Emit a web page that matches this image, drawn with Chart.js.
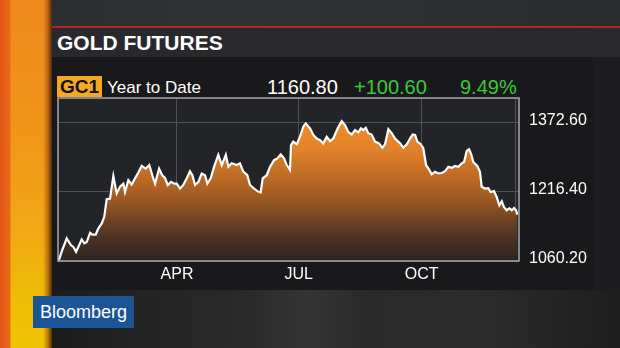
<!DOCTYPE html>
<html>
<head>
<meta charset="utf-8">
<script src="https://cdn.jsdelivr.net/npm/chart.js@4"></script>
<style>
  html, body { margin: 0; padding: 0; }
  body {
    width: 620px; height: 348px; overflow: hidden; position: relative;
    background: #1b1b1d;
    font-family: "Liberation Sans", Arial, sans-serif;
  }
  .abs { position: absolute; }
  #stripe {
    left: 0; top: 0; width: 52px; height: 348px;
    background:
      linear-gradient(to right, #e35616 0, #e86a1a 10px, rgba(0,0,0,0) 11px, rgba(0,0,0,0) 43px, rgba(150,70,10,0.6) 48px, rgba(60,30,10,0.9) 52px),
      linear-gradient(to bottom, #ee8a1c 0, #f0961a 40%, #f0a816 65%, #eebc06 85%, #f0c400 100%);
  }
  #topband {
    left: 52px; top: 0; width: 568px; height: 26px;
    background: linear-gradient(to right, #2c2d30 0, #313235 30%, #2e2f31 60%, #2a2b2d 100%);
  }
  #redline { left: 52px; top: 26px; width: 568px; height: 2px; background: #b3262a; }
  #titlebar { left: 52px; top: 28px; width: 568px; height: 29px; background: #29292d; }
  #panel { left: 52px; top: 57px; width: 541px; height: 233px; background: #19191b; }
  #panelright { left: 593px; top: 57px; width: 27px; height: 233px; background: #1d1d1f; }
  #bottom {
    left: 52px; top: 290px; width: 568px; height: 58px;
    background: linear-gradient(to right, #1c1c1c 0, #242424 15%, #2a2a2a 35%, #343434 45%, #2a2a2a 55%, #2c2c2c 75%, #242424 90%, #1e1e1e 100%);
  }
  #title { left: 57px; top: 32px; color: #fff; font-weight: bold; font-size: 21px; line-height: 1; }
  #gc1 {
    left: 57px; top: 76px; width: 45px; height: 21px; background: #f2aa22;
    color: #111; font-weight: bold; font-size: 19px; line-height: 21px; text-align: center;
  }
  .row { color: #fff; line-height: 1; white-space: nowrap; }
  #ytd { left: 107px; top: 79px; font-size: 17px; }
  #last { left: 267px; top: 77px; font-size: 20px; }
  #chg { left: 354px; top: 77px; font-size: 20px; color: #3cc83c; }
  #pct { left: 460px; top: 77px; font-size: 20px; color: #3cc83c; }
  #logo {
    left: 33px; top: 296px; width: 101px; height: 32px; background: #1b5597;
    color: #fff; font-size: 18px; line-height: 32px; text-align: center;
  }
  #wrap { left: 0; top: 0; width: 620px; height: 348px; }
</style>
</head>
<body>
<div class="abs" id="stripe"></div>
<div class="abs" id="topband"></div>
<div class="abs" id="redline"></div>
<div class="abs" id="titlebar"></div>
<div class="abs" id="panel"></div>
<div class="abs" id="panelright"></div>
<div class="abs" id="bottom"></div>
<div class="abs" id="title">GOLD FUTURES</div>
<div class="abs" id="gc1">GC1</div>
<div class="abs row" id="ytd">Year to Date</div>
<div class="abs row" id="last">1160.80</div>
<div class="abs row" id="chg">+100.60</div>
<div class="abs row" id="pct">9.49%</div>
<div class="abs" id="logo">Bloomberg</div>
<div class="abs" id="wrap"><canvas id="goldChart" width="620" height="348"></canvas></div>

<script>
// day of year (0 = Jan 1) and settle price
const days = [
  2.2, 3.0, 4.8, 8.5, 11.7, 13.5, 15.5, 17.2, 19.7, 21.7, 23.5, 26.0, 27.7, 30.2, 32.2, 34.7, 36.6, 38.4, 40.9,
  43.4, 45.9, 48.4, 50.9, 52.1, 54.6, 57.1, 59.6, 62.1, 64.6, 67.6, 70.3, 72.5, 74.6, 77.6, 80.0, 82.0, 84.1,
  86.5, 89.0, 90.8, 93.3, 95.7, 98.3, 100.7, 102.5, 104.5, 107.0, 109.5, 112.0, 113.7, 116.2, 118.7, 121.9,
  124.5, 127.5, 129.4, 131.9, 135.7, 138.1, 140.6, 143.6, 145.6, 148.6, 151.1, 153.6, 155.1, 158.1, 160.6,
  163.6, 166.0, 168.6, 171.1, 173.1, 175.5, 176.3, 178.0, 180.6, 183.0, 185.5, 187.3, 190.5, 193.0, 195.5,
  198.0, 200.4, 203.0, 205.5, 207.9, 211.2, 214.2, 216.7, 219.1, 221.7, 224.2, 226.6, 228.6, 230.4, 232.2,
  234.1, 236.6, 239.1, 242.1, 244.6, 246.6, 249.1, 251.6, 254.1, 256.5, 258.0, 260.3, 262.9, 265.3, 267.3,
  269.1, 270.8, 273.3, 275.2, 277.3, 279.7, 281.5, 284.0, 286.5, 289.0, 291.5, 294.0, 296.5, 299.0, 301.4,
  304.0, 305.7, 307.7, 309.4, 310.9, 312.6, 315.6, 317.6, 318.9, 321.4, 323.8, 325.6, 328.1, 330.1, 332.1,
  333.9, 335.6, 337.6, 339.6, 341.4, 343.1, 344.6, 345.6
];
const prices = [
  1063, 1065, 1082, 1111, 1096, 1092, 1081, 1092, 1109, 1100, 1103, 1124, 1120, 1120, 1134, 1145, 1160, 1200, 1201,
  1252, 1213, 1228, 1235, 1216, 1243, 1233, 1247, 1260, 1275, 1269, 1277, 1254, 1235, 1269, 1254, 1248, 1232,
  1239, 1235, 1235, 1224, 1232, 1247, 1263, 1254, 1232, 1239, 1258, 1254, 1235, 1247, 1273, 1300,
  1277, 1300, 1273, 1281, 1277, 1281, 1262, 1254, 1232, 1224, 1218, 1215, 1247, 1254, 1273,
  1288, 1292, 1301, 1292, 1277, 1266, 1322, 1330, 1324, 1341, 1364, 1371, 1360, 1345, 1337,
  1333, 1326, 1341, 1331, 1337, 1360, 1376, 1367, 1352, 1346, 1356, 1351, 1360, 1356, 1361,
  1349, 1346, 1330, 1326, 1316, 1324, 1358, 1349, 1337, 1330, 1326, 1316, 1324, 1337, 1346,
  1345, 1330, 1324, 1315, 1277, 1266, 1256, 1262, 1258, 1259, 1263, 1273, 1271, 1275, 1273,
  1281, 1284, 1309, 1313, 1303, 1284, 1275, 1262, 1228, 1224, 1225, 1216, 1218, 1205, 1186,
  1195, 1182, 1175, 1179, 1175, 1180, 1175, 1165
];

const xTickDays = [91, 182, 274, 344];
const xTickLabels = ["APR", "JUL", "OCT", ""];
const yTicks = [1060.20, 1216.40, 1372.60];

const points = days.map((d, i) => ({ x: d, y: prices[i] }));

// dark plot background + light frame round the plot area
const frame = {
  id: "frame",
  beforeDraw(chart) {
    const a = chart.chartArea, c = chart.ctx;
    c.save();
    c.fillStyle = "#232428";
    c.fillRect(a.left, a.top, a.right - a.left, a.bottom - a.top);
    c.restore();
  },
  afterDraw(chart) {
    const a = chart.chartArea, c = chart.ctx;
    c.save();
    c.strokeStyle = "#a8a8a8";
    c.lineWidth = 1.5;
    c.strokeRect(a.left, a.top, a.right - a.left, a.bottom - a.top);
    c.restore();
  }
};

function fillGradient(context) {
  const chart = context.chart;
  const a = chart.chartArea;
  if (!a) return "#d07020";
  const g = chart.ctx.createLinearGradient(0, a.top, 0, a.bottom);
  g.addColorStop(0, "#f7962e");
  g.addColorStop(0.3, "#e5832a");
  g.addColorStop(0.6, "#a35c22");
  g.addColorStop(0.85, "#4d3323");
  g.addColorStop(1, "#2a2421");
  return g;
}

new Chart(document.getElementById("goldChart").getContext("2d"), {
  type: "line",
  data: {
    datasets: [{
      data: points,
      borderColor: "#ffffff",
      borderWidth: 2.2,
      pointRadius: 0,
      tension: 0,
      fill: "start",
      backgroundColor: fillGradient
    }]
  },
  options: {
    responsive: false,
    animation: false,
    layout: { padding: { left: 58, top: 98, right: 0, bottom: 0 } },
    plugins: { legend: { display: false }, tooltip: { enabled: false } },
    scales: {
      x: {
        type: "linear",
        min: 2,
        max: 346.8,
        afterBuildTicks: (axis) => { axis.ticks = xTickDays.map(v => ({ value: v })); },
        afterFit: (axis) => { axis.height = 87; },
        grid: { color: "#505156", lineWidth: 1, drawTicks: false },
        border: { display: false },
        ticks: {
          autoSkip: false,
          maxRotation: 0,
          padding: 4,
          color: "#ffffff",
          font: { family: "Liberation Sans", size: 16 },
          callback: (v) => xTickLabels[xTickDays.indexOf(v)]
        }
      },
      y: {
        position: "right",
        min: 1060.2,
        max: 1428.5,
        afterBuildTicks: (axis) => { axis.ticks = yTicks.map(v => ({ value: v })); },
        afterFit: (axis) => { axis.width = 101; },
        grid: { color: "#505156", lineWidth: 1, drawTicks: false },
        border: { display: false },
        ticks: {
          padding: 10,
          labelOffset: -2,
          color: "#ffffff",
          font: { family: "Liberation Sans", size: 16 },
          callback: (v) => Number(v).toFixed(2)
        }
      }
    }
  },
  plugins: [frame]
});
</script>
</body>
</html>
